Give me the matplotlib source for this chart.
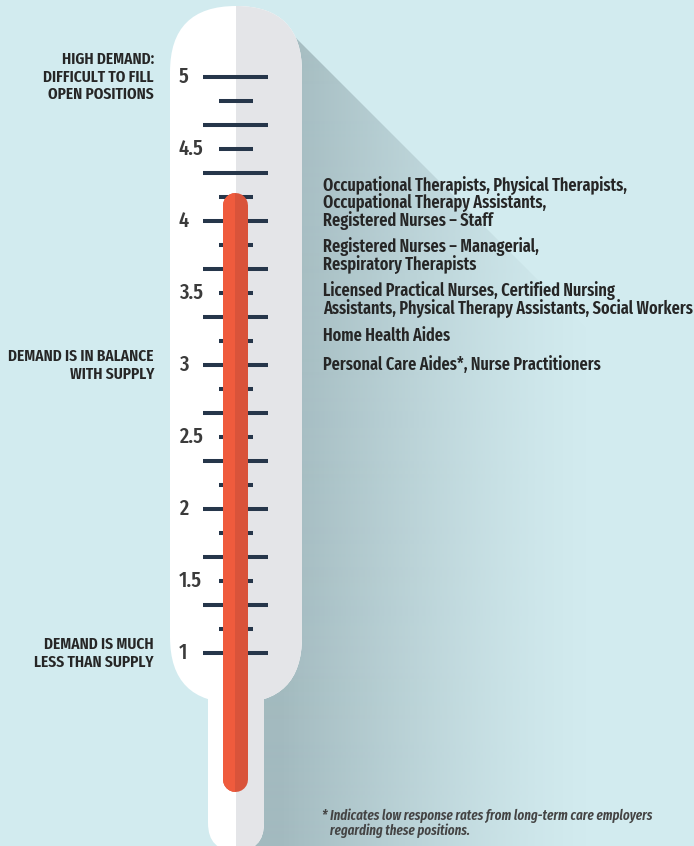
import numpy as np
import matplotlib
matplotlib.use("Agg")
import matplotlib.pyplot as plt
from matplotlib.patches import FancyBboxPatch, Polygon, Rectangle

# scale on the thermometer
tick_values = [1, 1.5, 2, 2.5, 3, 3.5, 4, 4.5, 5]
tick_labels = ["1", "1.5", "2", "2.5", "3", "3.5", "4", "4.5", "5"]
long_ticks = [1 + i / 3 for i in range(13)]
short_ticks = [1 + 1 / 6 + i / 3 for i in range(12)]
mercury_level = 4.2

# descriptions on the left
side_values = [5, 3, 1]
side_labels = ["HIGH DEMAND:\nDIFFICULT TO FILL\nOPEN POSITIONS",
               "DEMAND IS IN BALANCE\nWITH SUPPLY",
               "DEMAND IS MUCH\nLESS THAN SUPPLY"]

# occupations on the right
group_values = [4.125, 3.76, 3.455, 3.2, 3.0]
group_labels = ["Occupational Therapists, Physical Therapists,\nOccupational Therapy Assistants,\nRegistered Nurses \u2013 Staff",
                "Registered Nurses \u2013 Managerial,\nRespiratory Therapists",
                "Licensed Practical Nurses, Certified Nursing\nAssistants, Physical Therapy Assistants, Social Workers",
                "Home Health Aides",
                "Personal Care Aides*, Nurse Practitioners"]

note = "* Indicates low response rates from long-term care employers\n   regarding these positions."

bg = "#d2ebef"
navy = "#26364a"
plt.rcParams["font.family"] = ["Fira Sans Extra Condensed", "DejaVu Sans"]

W, H = 694, 846
fig = plt.figure(figsize=(6.94, 8.46), dpi=100)
fig.patch.set_facecolor(bg)

# drawing layer in pixels
deco = fig.add_axes([0, 0, 1, 1])
deco.set_xlim(0, W)
deco.set_ylim(H, 0)
deco.axis("off")

# long shadow
shadow = Polygon([(236, 72), (283, 25), (W, 436), (W, H), (236, H), (236, 705), (189, 684)],
                 closed=True, facecolor="none", edgecolor="none")
deco.add_patch(shadow)
xs = np.arange(W)
alpha = np.clip(1 - (xs - 280) / 310.0, 0, 1) ** 1.3
img = np.zeros((1, W, 4))
img[..., :3] = matplotlib.colors.to_rgb("#a3babf")
img[0, :, 3] = alpha
im = deco.imshow(img, extent=(0, W, H, 0), aspect="auto", interpolation="bilinear")
im.set_clip_path(shadow)

# thermometer body
for color, clip in [("white", None), ("#e4e5e8", Rectangle((236, 0), 100, H, transform=deco.transData))]:
    body = FancyBboxPatch((170, 6), 132, 697, boxstyle="round,pad=0,rounding_size=66",
                          facecolor=color, edgecolor="none")
    stem = FancyBboxPatch((208, 620), 56, 231, boxstyle="round,pad=0,rounding_size=28",
                          facecolor=color, edgecolor="none")
    deco.add_patch(body)
    deco.add_patch(stem)
    if clip is not None:
        body.set_clip_path(clip)
        stem.set_clip_path(clip)

# value layer
ax = fig.add_axes([0, 0, 1, 1], facecolor="none")
ax.set_xlim(0, W)
ax.set_ylim(5 - (H - 77) / 144, 5 + 77 / 144)
ax.axis("off")

ax.hlines(long_ticks, 203, 268, color=navy, lw=2.9, zorder=2)
ax.hlines(short_ticks, 219, 253, color=navy, lw=2.9, zorder=2)

cap = 12.5 / 144
base = 0.035
dark, = ax.plot([235.5, 235.5], [base + cap, mercury_level - cap], color="#d9533a",
                lw=18, solid_capstyle="round", zorder=3)
light, = ax.plot([235.5, 235.5], [base + cap, mercury_level - cap], color="#ef5b3d",
                 lw=18, solid_capstyle="round", zorder=4)
light.set_clip_path(Rectangle((0, 0), 235.5, H, transform=deco.transData))

for v, t in zip(tick_values, tick_labels):
    ax.text(179, v, t, ha="left", va="center", fontsize=16, fontweight="medium", color="#3b3b3b")

for v, t in zip(side_values, side_labels):
    ax.text(154, v, t, ha="right", va="center", fontsize=12, fontweight="semibold",
            color="#262626", linespacing=1.15)

for v, t in zip(group_values, group_labels):
    ax.text(323, v, t, ha="left", va="center", fontsize=12.7, fontweight="semibold",
            color="#262626", linespacing=0.88)

ax.text(322, 5 - (823 - 77) / 144, note, ha="left", va="center", fontsize=10.2,
        fontweight="semibold", style="italic", color="#444444", linespacing=1.05)

fig.savefig("out.png", dpi=100, facecolor=bg)
